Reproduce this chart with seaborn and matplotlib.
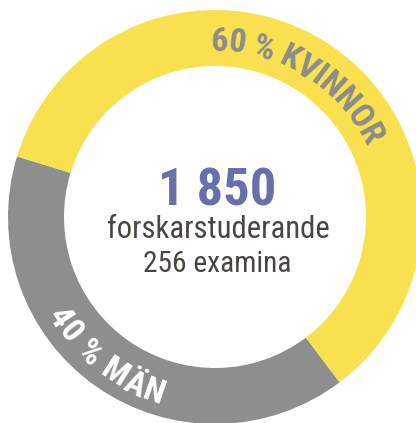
import numpy as np
import seaborn as sns
import matplotlib.pyplot as plt
from matplotlib import font_manager
from matplotlib.font_manager import FontProperties
from matplotlib.textpath import TextToPath

# data
groups = ['MÄN', 'KVINNOR']
shares = [40, 60]
ring_colors = ['#8e8e8e', '#f9e04f']
total_students = '1 850'
student_label = 'forskarstuderande'
degrees_label = '256 examina'

sns.set_style('white')

# pick a condensed face if one is installed
available = {f.name for f in font_manager.fontManager.ttflist}
narrow = [f for f in ['Roboto Condensed', 'DejaVu Sans Condensed'] if f in available]
narrow = narrow[:1] + ['DejaVu Sans']
plt.rcParams['font.family'] = narrow

DPI = 100
fig = plt.figure(figsize=(4.16, 4.23), dpi=DPI)
ax = fig.add_axes([0, 0, 1, 1])

center = (215, 206)
ax.pie(shares, colors=ring_colors, startangle=163, counterclock=True,
       radius=207, center=center, wedgeprops=dict(width=56, linewidth=0))
ax.set_xlim(0, 416)
ax.set_ylim(0, 423)
ax.set_aspect('equal')
ax.axis('off')

ttp = TextToPath()


def text_width(s, fp):
    w = ttp.get_text_width_height_descent(s, fp, ismath=False)[0]
    return w * DPI / 72


def char_width(ch, fp):
    # x..x trick so that spaces get their advance
    return text_width('x' + ch + 'x', fp) - text_width('xx', fp)


def fitted(target_px, s, **kw):
    fp = FontProperties(family=narrow, stretch='condensed', size=10, **kw)
    fp.set_size(10 * target_px / text_width(s, fp))
    return fp


def arc_text(text, radius, start, end, outward, fp, color):
    widths = [char_width(c, fp) / radius for c in text]
    span = np.radians(abs(end - start))
    inner = sum(widths) - widths[0] / 2 - widths[-1] / 2
    gap = (span - inner) / (len(text) - 1)
    direction = -1 if outward else 1
    theta = np.radians(start)
    for i, ch in enumerate(text):
        if i > 0:
            theta += direction * (widths[i - 1] / 2 + gap + widths[i] / 2)
        x = center[0] + radius * np.cos(theta)
        y = center[1] + radius * np.sin(theta)
        rot = np.degrees(theta) - 90 if outward else np.degrees(theta) + 90
        ax.text(x, y, ch, rotation=rot, rotation_mode='anchor', ha='center',
                va='baseline', fontproperties=fp, color=color)


ring_font = FontProperties(family=narrow, stretch='condensed', weight='bold', size=24.5)
arc_text(f'{shares[1]} % {groups[1]}', 166, 88.6, 28.0, True, ring_font, '#8c8c8c')
arc_text(f'{shares[0]} % {groups[0]}', 195, 213.0, 250.9, False, ring_font, 'white')

ax.text(217, 218, total_students, ha='center', va='baseline', color='#6670aa',
        fontproperties=fitted(118, total_students, weight='bold'))
ax.text(218.5, 185, student_label, ha='center', va='baseline', color='#4a463f',
        fontproperties=fitted(223, student_label))
ax.text(217.5, 151, degrees_label, ha='center', va='baseline', color='#4a463f',
        fontproperties=fitted(149, degrees_label))

fig.savefig('out.png', dpi=DPI)
